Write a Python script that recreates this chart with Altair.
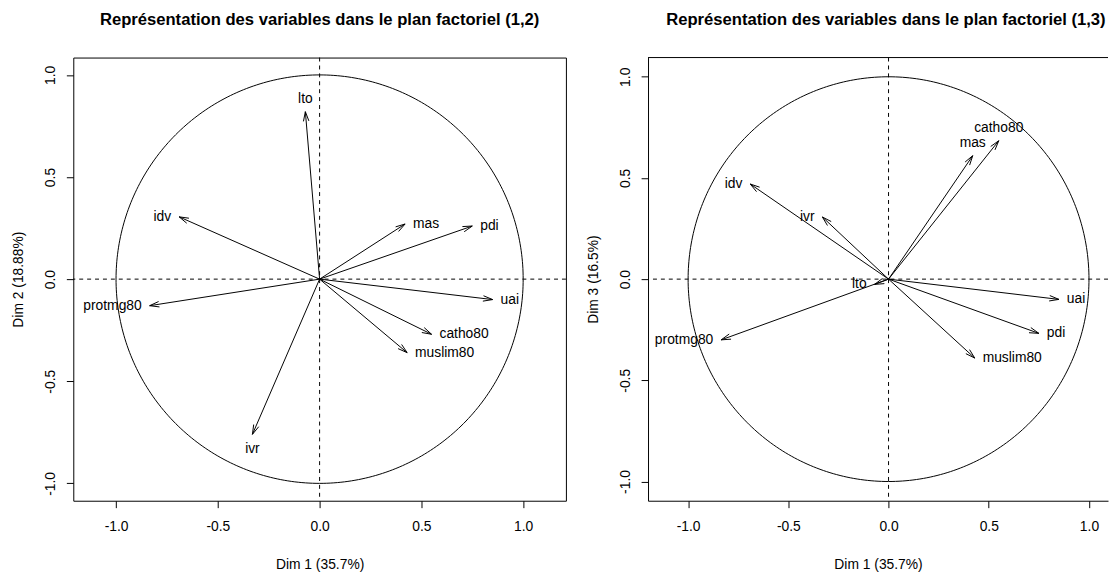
import altair as alt
import numpy as np
import pandas as pd

# ---- data ----
variables = ["lto", "idv", "mas", "pdi", "protmg80", "uai", "catho80", "muslim80", "ivr"]
dim1 = [-0.07, -0.69, 0.42, 0.75, -0.835, 0.85, 0.55, 0.43, -0.33]
dim2 = [0.82, 0.305, 0.27, 0.26, -0.13, -0.10, -0.27, -0.36, -0.76]
dim3 = [-0.026, 0.47, 0.61, -0.268, -0.30, -0.10, 0.684, -0.39, 0.307]

tick_values = [-1.0, -0.5, 0.0, 0.5, 1.0]
x_title = "Dim 1 (35.7%)"
y_title_12 = "Dim 2 (18.88%)"
y_title_13 = "Dim 3 (16.5%)"
title_12 = "Représentation des variables dans le plan factoriel (1,2)"
title_13 = "Représentation des variables dans le plan factoriel (1,3)"

FONT = "Liberation Sans"
FS = 14
TFS = 16.8
LBL = "datum.value < 0 ? '-' + format(-datum.value, '.1f') : format(datum.value, '.1f')"


def x_axis(domain_line):
    return alt.Axis(title=x_title, values=tick_values, labelExpr=LBL, grid=False,
                    domain=domain_line, domainColor="black", domainWidth=1,
                    tickColor="black", tickSize=7, tickWidth=1,
                    labelFont=FONT, labelFontSize=FS, labelColor="black",
                    labelPadding=12, labelFlush=False, labelOverlap=False,
                    titleFont=FONT, titleFontSize=FS, titleFontWeight="normal",
                    titleColor="black", titlePadding=25)


def y_axis(title, domain_line):
    return alt.Axis(title=title, values=tick_values, labelExpr=LBL, grid=False,
                    domain=domain_line, domainColor="black", domainWidth=1,
                    tickColor="black", tickSize=7, tickWidth=1,
                    labelFont=FONT, labelFontSize=FS, labelColor="black",
                    labelAngle=270, labelAlign="center", labelBaseline="middle",
                    labelPadding=16, labelFlush=False, labelOverlap=False,
                    titleFont=FONT, titleFontSize=FS, titleFontWeight="normal",
                    titleColor="black", titlePadding=18)


def panel(ycoords, title, ytitle, xdom, ydom, width, height, open_right, title_dx):
    xs = alt.Scale(domain=xdom, nice=False, zero=False)
    ys = alt.Scale(domain=ydom, nice=False, zero=False)
    xa = x_axis(open_right)
    ya = y_axis(ytitle, open_right)

    def X(f):
        return alt.X(f, type="quantitative", scale=xs, axis=xa)

    def Y(f):
        return alt.Y(f, type="quantitative", scale=ys, axis=ya)

    px = width / (xdom[1] - xdom[0])
    py = height / (ydom[1] - ydom[0])

    df = pd.DataFrame({"var": variables, "x": dim1, "y": ycoords})
    df["x0"] = 0.0
    df["y0"] = 0.0
    ang = np.arctan2(df["y"] * py, df["x"] * px)
    deg = np.degrees(ang)

    def side(d):
        if 45 < d < 135:
            return "above"
        if -135 < d < -45:
            return "below"
        if -45 <= d <= 45:
            return "right"
        return "left"

    df["side"] = [side(d) for d in deg]

    # open arrow heads (two short strokes at the tip)
    L, th = 10.0, np.radians(16)
    heads = []
    for _, r in df.iterrows():
        a = np.arctan2(r["y"] * py, r["x"] * px)
        for s in (1, -1):
            heads.append({
                "xa": r["x"] - L * np.cos(a + s * th) / px,
                "ya": r["y"] - L * np.sin(a + s * th) / py,
                "xb": r["x"], "yb": r["y"],
            })
    dh = pd.DataFrame(heads)

    t = np.radians(np.arange(0, 361, 1))
    dc = pd.DataFrame({"cx": np.cos(t), "cy": np.sin(t), "o": np.arange(len(t))})

    circle = alt.Chart(dc).mark_line(color="black", strokeWidth=1, clip=True).encode(
        x=X("cx"), y=Y("cy"), order="o:Q")
    zero_df = pd.DataFrame({"z": [0.0]})
    hline = alt.Chart(zero_df).mark_rule(color="black", strokeWidth=1, strokeDash=[4, 4]).encode(
        y=Y("z"))
    vline = alt.Chart(zero_df).mark_rule(color="black", strokeWidth=1, strokeDash=[4, 4]).encode(
        x=X("z"))
    shafts = alt.Chart(df).mark_rule(color="black", strokeWidth=1).encode(
        x=X("x0"), y=Y("y0"), x2="x", y2="y")
    heads_l = alt.Chart(dh).mark_rule(color="black", strokeWidth=1).encode(
        x=X("xa"), y=Y("ya"), x2="xb", y2="yb")

    tkw = dict(font=FONT, fontSize=FS, color="black")
    layers = [circle, hline, vline, shafts, heads_l]
    spec = {
        "right": dict(align="left", baseline="middle", dx=8),
        "left": dict(align="right", baseline="middle", dx=-8),
        "above": dict(align="center", baseline="alphabetic", dy=-9),
        "below": dict(align="center", baseline="top", dy=8),
    }
    for k, kw in spec.items():
        sub = df[df["side"] == k]
        if len(sub):
            layers.append(alt.Chart(sub).mark_text(**kw, **tkw).encode(
                x=X("x"), y=Y("y"), text="var:N"))
    if open_right:
        top_df = pd.DataFrame({"z": [ydom[1]]})
        layers.append(alt.Chart(top_df).mark_rule(color="black", strokeWidth=1).encode(y=Y("z")))

    view = alt.ViewBackground(stroke="transparent") if open_right else \
        alt.ViewBackground(stroke="black", strokeWidth=1)
    return alt.layer(*layers).properties(
        width=width, height=height, view=view,
        title=alt.TitleParams(title, font=FONT, fontSize=TFS, fontWeight="bold",
                              color="black", offset=29, dx=title_dx),
    )


left = panel(dim2, title_12, y_title_12, [-1.21, 1.21], [-1.085, 1.085], 498, 448, False, 0)
right = panel(dim3, title_13, y_title_13, [-1.2, 1.095], [-1.095, 1.095], 465, 448, True, 8)

chart = alt.hconcat(left, right, spacing=19).properties(
    padding={"left": 3, "top": 0, "right": 0, "bottom": 0}
).configure_view(stroke="transparent").configure(background="white")

chart.save("out.html", embed_options={"renderer": "svg", "actions": False})
